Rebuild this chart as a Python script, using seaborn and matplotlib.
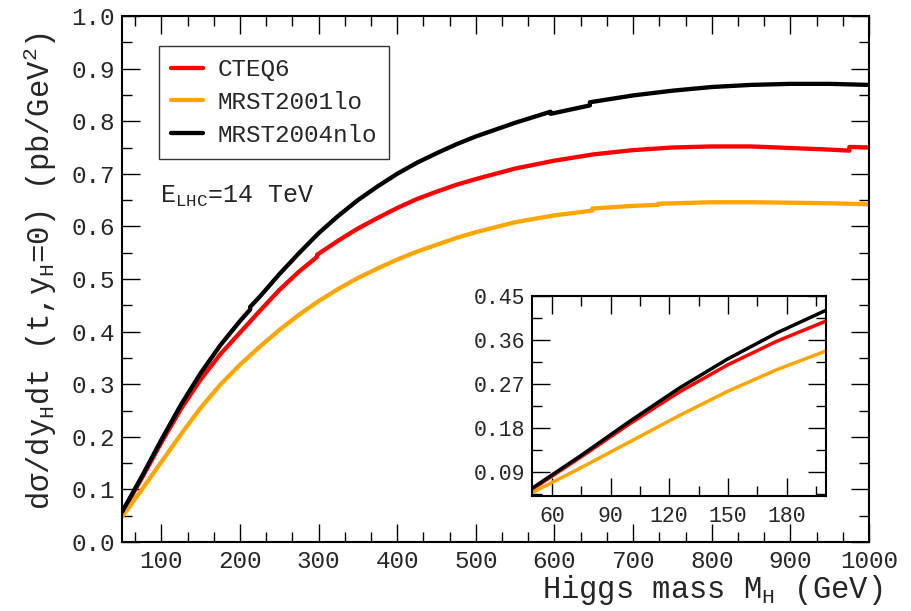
import numpy as np
import pandas as pd
import matplotlib
matplotlib.use("Agg")
import matplotlib.pyplot as plt
from matplotlib.ticker import MultipleLocator, FormatStrFormatter
import seaborn as sns

# Data (Higgs mass in GeV, cross section in pb/GeV^2)
cteq6_mass = [50, 75, 100, 125, 150, 175, 200, 225, 250, 275, 298, 298, 325,
              350, 375, 400, 425, 450, 475, 500, 550, 600, 650, 700, 750, 800,
              850, 900, 950, 975, 975, 1000]
cteq6_val = [0.055, 0.121, 0.189, 0.253, 0.309, 0.357, 0.398, 0.439, 0.479,
             0.514, 0.542, 0.546, 0.573, 0.596, 0.616, 0.635, 0.652, 0.666,
             0.679, 0.690, 0.710, 0.725, 0.737, 0.745, 0.750, 0.752, 0.752,
             0.749, 0.746, 0.744, 0.751, 0.750]

mrst01_mass = [50, 75, 100, 125, 150, 175, 200, 225, 250, 275, 300, 325, 350,
               375, 400, 425, 450, 475, 500, 550, 600, 648, 648, 700, 732, 732,
               800, 850, 900, 950, 1000]
mrst01_val = [0.048, 0.099, 0.152, 0.205, 0.255, 0.299, 0.337, 0.371, 0.403,
              0.432, 0.458, 0.481, 0.502, 0.520, 0.537, 0.552, 0.565, 0.578,
              0.589, 0.608, 0.621, 0.630, 0.634, 0.639, 0.641, 0.643, 0.646,
              0.646, 0.645, 0.644, 0.642]

mrst04_mass = [50, 75, 100, 125, 150, 175, 200, 213, 213, 225, 250, 275, 300,
               325, 350, 375, 400, 425, 450, 475, 500, 550, 595, 595, 645, 645,
               700, 750, 800, 850, 900, 950, 1000]
mrst04_val = [0.057, 0.124, 0.194, 0.261, 0.321, 0.374, 0.420, 0.442, 0.447,
              0.466, 0.509, 0.549, 0.587, 0.620, 0.650, 0.676, 0.700, 0.721,
              0.739, 0.756, 0.771, 0.797, 0.818, 0.814, 0.830, 0.836, 0.849,
              0.858, 0.865, 0.869, 0.871, 0.871, 0.869]

pdf_names = ["CTEQ6", "MRST2001lo", "MRST2004nlo"]
pdf_colors = ["#ff0000", "#ffa500", "#000000"]

df = pd.concat([
    pd.DataFrame({"mass": cteq6_mass, "val": cteq6_val, "pdf": "CTEQ6"}),
    pd.DataFrame({"mass": mrst01_mass, "val": mrst01_val, "pdf": "MRST2001lo"}),
    pd.DataFrame({"mass": mrst04_mass, "val": mrst04_val, "pdf": "MRST2004nlo"}),
], ignore_index=True)

sns.set_style("ticks")
plt.rcParams["font.family"] = ["Liberation Mono", "DejaVu Sans"]
plt.rcParams["mathtext.fontset"] = "custom"
plt.rcParams["mathtext.rm"] = "Liberation Mono"
plt.rcParams["mathtext.it"] = "Liberation Mono"
plt.rcParams["mathtext.default"] = "rm"

fig = plt.figure(figsize=(9.11, 6.11), dpi=100)
ax = fig.add_axes([122 / 911, 69 / 611, 747 / 911, 526 / 611])


def style_axes(a, major_len, minor_len, size, pad_x, pad_y):
    for s in a.spines.values():
        s.set_visible(True)
        s.set_linewidth(1.5)
        s.set_color("black")
    a.tick_params(which="both", direction="in", top=True, right=True,
                  width=1.0, color="black")
    a.tick_params(which="major", length=major_len, labelsize=size)
    a.tick_params(which="minor", length=minor_len)
    a.tick_params(axis="x", pad=pad_x)
    a.tick_params(axis="y", pad=pad_y)
    a.set_facecolor("white")


for name, col in zip(pdf_names, pdf_colors):
    sub = df[df["pdf"] == name]
    sns.lineplot(data=sub, x="mass", y="val", color=col, lw=3.1, sort=False,
                 estimator=None, label=name, ax=ax)

ax.set_xlim(50, 1000)
ax.set_ylim(0, 1)
ax.xaxis.set_major_locator(MultipleLocator(100))
ax.xaxis.set_minor_locator(MultipleLocator(100 / 3))
ax.yaxis.set_major_locator(MultipleLocator(0.1))
ax.yaxis.set_minor_locator(MultipleLocator(0.05))
ax.yaxis.set_major_formatter(FormatStrFormatter("%.1f"))
style_axes(ax, 13, 7, 17.5, 6, 5)

ax.set_xlabel(r"Higgs mass M$_{\rm H}$ (GeV)", fontsize=22, ha="right")
ax.xaxis.set_label_coords(1.018, -0.058)
ax.set_ylabel(r"d$\sigma$/dy$_{\rm H}$dt (t,y$_{\rm H}$=0) (pb/GeV$^{2}$)",
              fontsize=22)
ax.yaxis.set_label_coords(-0.085, 0.515)

leg = ax.legend(loc="upper left", bbox_to_anchor=(0.0495, 0.943),
                borderaxespad=0, fontsize=17.5, handlelength=1.3,
                handletextpad=0.6, labelspacing=0.4, borderpad=0.5,
                fancybox=False, framealpha=1, edgecolor="#333333")
leg.get_frame().set_linewidth(1.0)

ax.text(0.051, 0.644, r"E$_{\rm LHC}$=14 TeV", transform=ax.transAxes,
        fontsize=18, va="baseline", ha="left")

# inset: low mass region
ins = fig.add_axes([532.3 / 911, 115 / 611, 293.4 / 911, 200.3 / 611])
for name, col in zip(pdf_names, pdf_colors):
    sub = df[df["pdf"] == name]
    sns.lineplot(data=sub, x="mass", y="val", color=col, lw=2.5, sort=False,
                 estimator=None, legend=False, ax=ins)
ins.set_xlim(50, 200)
ins.set_ylim(0.041, 0.45)
ins.xaxis.set_minor_locator(MultipleLocator(15))
ins.set_xticks([60, 90, 120, 150, 180])
ins.yaxis.set_major_locator(MultipleLocator(0.09))
ins.yaxis.set_minor_locator(MultipleLocator(0.045))
ins.yaxis.set_major_formatter(FormatStrFormatter("%.2f"))
style_axes(ins, 13, 7, 15.5, 7, 5)
ins.set_xlabel("")
ins.set_ylabel("")

fig.savefig("out.png", dpi=100, facecolor="white")
